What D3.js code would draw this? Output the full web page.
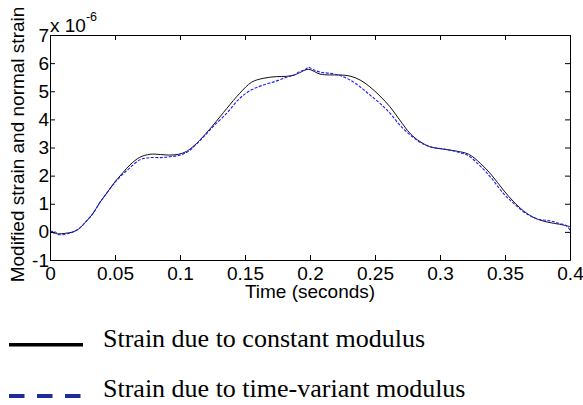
<!DOCTYPE html>
<html><head><meta charset="utf-8">
<script src="https://cdn.jsdelivr.net/npm/d3@7"></script>
<style>
html,body{margin:0;padding:0;background:#fff;}
svg{display:block;}
</style></head>
<body>
<svg id="c" width="583" height="405"></svg>
<script>
const xTicks = [0, 0.05, 0.1, 0.15, 0.2, 0.25, 0.3, 0.35, 0.4];
const xTickLabels = ["0", "0.05", "0.1", "0.15", "0.2", "0.25", "0.3", "0.35", "0.4"];
const yTicks = [-1, 0, 1, 2, 3, 4, 5, 6, 7];
const yTickLabels = ["-1", "0", "1", "2", "3", "4", "5", "6", "7"];

const constTime = [0, 0.006, 0.012, 0.017, 0.022, 0.027, 0.033, 0.038, 0.044, 0.05, 0.056, 0.0615, 0.069, 0.077, 0.085, 0.092, 0.099, 0.105, 0.11, 0.115, 0.12, 0.1256, 0.136, 0.146, 0.155, 0.164, 0.174, 0.182, 0.188, 0.192, 0.1987, 0.2077, 0.215, 0.223, 0.2308, 0.2385, 0.246, 0.2538, 0.2615, 0.269, 0.277, 0.2846, 0.292, 0.3026, 0.3128, 0.322, 0.331, 0.3397, 0.3487, 0.3577, 0.3667, 0.3756, 0.3846, 0.392, 0.4];
const constStrain = [0.0, -0.07, -0.05, -0.01, 0.1, 0.33, 0.65, 1.02, 1.40, 1.78, 2.10, 2.38, 2.65, 2.76, 2.75, 2.73, 2.76, 2.86, 3.03, 3.25, 3.50, 3.80, 4.39, 4.93, 5.32, 5.46, 5.52, 5.53, 5.58, 5.66, 5.78, 5.61, 5.58, 5.58, 5.54, 5.40, 5.16, 4.83, 4.45, 3.98, 3.50, 3.21, 3.03, 2.94, 2.87, 2.76, 2.44, 2.02, 1.49, 1.02, 0.66, 0.44, 0.33, 0.27, 0.19];

const varTime = [0, 0.004, 0.006, 0.01, 0.014, 0.017, 0.022, 0.027, 0.033, 0.038, 0.044, 0.05, 0.056, 0.0615, 0.069, 0.077, 0.085, 0.092, 0.099, 0.105, 0.11, 0.115, 0.12, 0.1256, 0.136, 0.146, 0.155, 0.164, 0.174, 0.182, 0.188, 0.192, 0.196, 0.1987, 0.202, 0.2077, 0.215, 0.223, 0.2308, 0.2385, 0.246, 0.2538, 0.2615, 0.269, 0.277, 0.2846, 0.292, 0.3026, 0.3128, 0.322, 0.331, 0.3397, 0.3487, 0.3577, 0.3667, 0.3756, 0.3846, 0.392, 0.397, 0.4];
const varStrain = [0.02, 0.0, -0.09, -0.10, -0.06, -0.02, 0.1, 0.33, 0.65, 1.02, 1.40, 1.76, 2.05, 2.28, 2.56, 2.64, 2.64, 2.67, 2.72, 2.82, 3.0, 3.23, 3.47, 3.75, 4.22, 4.75, 5.05, 5.22, 5.36, 5.50, 5.58, 5.70, 5.76, 5.85, 5.78, 5.68, 5.64, 5.56, 5.40, 5.16, 4.87, 4.57, 4.22, 3.80, 3.45, 3.19, 3.03, 2.95, 2.85, 2.70, 2.34, 1.90, 1.37, 0.97, 0.64, 0.45, 0.39, 0.30, 0.22, 0.07];

const legendLabels = ["Strain due to constant modulus", "Strain due to time-variant modulus"];

const svg = d3.select("#c");
const L = 50, R = 570, T = 35, B = 260;
const x = d3.scaleLinear().domain([0, 0.4]).range([L, R]);
const y = d3.scaleLinear().domain([-1, 7]).range([B, T]);
const SANS = "'Liberation Sans', Arial, sans-serif";
const FS = "19px";

svg.append("clipPath").attr("id", "clip").append("rect")
  .attr("x", L).attr("y", T).attr("width", R - L).attr("height", B - T);

const line = d3.line().x(d => x(d[0])).y(d => y(d[1])).curve(d3.curveCatmullRom.alpha(0.5));
const constData = constTime.map((t, i) => [t, constStrain[i]]);
const varData = varTime.map((t, i) => [t, varStrain[i]]);
const g = svg.append("g").attr("clip-path", "url(#clip)");
g.append("path").datum(constData).attr("d", line)
  .attr("fill", "none").attr("stroke", "#111").attr("stroke-width", 1);
g.append("path").datum(varData).attr("d", line)
  .attr("fill", "none").attr("stroke", "#1a1aff").attr("stroke-width", 1.1)
  .attr("stroke-dasharray", "3,1.5");

function style(sel) {
  sel.selectAll("path.domain").attr("stroke", "#000").attr("stroke-width", 1);
  sel.selectAll(".tick line").attr("stroke", "#000");
  sel.selectAll("text").style("font-family", SANS).style("font-size", FS).attr("fill", "#000");
}
const ax = svg.append("g").attr("transform", `translate(0,${B})`)
  .call(d3.axisBottom(x).tickValues(xTicks).tickFormat((d, i) => xTickLabels[i])
    .tickSizeInner(-5).tickSizeOuter(0).tickPadding(7));
style(ax);
const ay = svg.append("g").attr("transform", `translate(${L},0)`)
  .call(d3.axisLeft(y).tickValues(yTicks).tickFormat((d, i) => yTickLabels[i])
    .tickSizeInner(-5).tickSizeOuter(0).tickPadding(1));
style(ay);
const at = svg.append("g").attr("transform", `translate(0,${T})`)
  .call(d3.axisTop(x).tickValues(xTicks).tickFormat("").tickSizeInner(-5).tickSizeOuter(0));
style(at);
const ar = svg.append("g").attr("transform", `translate(${R},0)`)
  .call(d3.axisRight(y).tickValues(yTicks).tickFormat("").tickSizeInner(-5).tickSizeOuter(0));
style(ar);

const ex = svg.append("text").attr("x", L).attr("y", 32)
  .style("font-family", SANS).style("font-size", FS).attr("fill", "#000");
ex.append("tspan").text("x 10");
ex.append("tspan").attr("dy", -11).style("font-size", "12.5px").text("-6");

svg.append("text").attr("x", (L + R) / 2).attr("y", 298)
  .attr("text-anchor", "middle").style("font-family", SANS).style("font-size", FS).attr("fill", "#000")
  .text("Time (seconds)");
svg.append("text").attr("transform", `translate(24,${(T + B) / 2 - 3}) rotate(-90)`)
  .attr("text-anchor", "middle").style("font-family", SANS).style("font-size", FS).attr("fill", "#000")
  .text("Modified strain and normal strain");

const lg = svg.append("g");
lg.append("line").attr("x1", 9).attr("x2", 83).attr("y1", 344.7).attr("y2", 344.7)
  .attr("stroke", "#000").attr("stroke-width", 3.5);
lg.append("line").attr("x1", 9).attr("x2", 83).attr("y1", 396).attr("y2", 396)
  .attr("stroke", "#1c2c9c").attr("stroke-width", 4).attr("stroke-dasharray", "15.5,12.5");
lg.selectAll("text.lt").data(legendLabels).enter().append("text")
  .attr("class", "lt")
  .attr("x", 103).attr("y", (d, i) => i === 0 ? 346.7 : 397.3)
  .style("font-family", "'Liberation Serif', 'Times New Roman', serif")
  .style("font-size", "26px").attr("fill", "#000")
  .text(d => d);
</script>
</body></html>
